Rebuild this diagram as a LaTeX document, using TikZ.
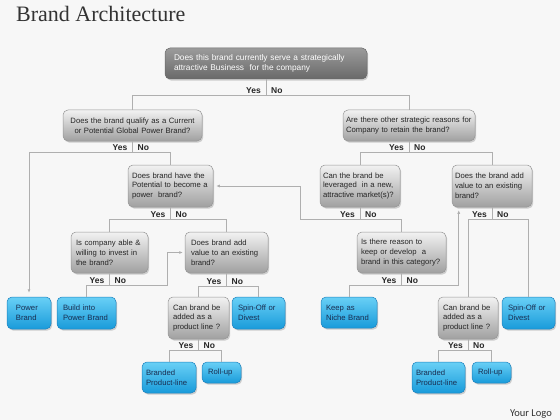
\documentclass[tikz,border=0pt]{standalone}
\usepackage{fontspec}
\setmainfont{Liberation Serif}
\newfontfamily\sansf{Liberation Sans}
\newfontfamily\logof{Carlito}
\usetikzlibrary{shadows,arrows.meta,calc}
\definecolor{bgc}{RGB}{247,247,247}
\definecolor{linec}{RGB}{175,175,175}
\definecolor{gtop}{RGB}{242,242,242}
\definecolor{gbot}{RGB}{160,160,160}
\definecolor{gdraw}{RGB}{150,150,150}
\definecolor{ttop}{RGB}{155,155,155}
\definecolor{tbot}{RGB}{105,105,105}
\definecolor{btop}{RGB}{105,208,246}
\definecolor{bbot}{RGB}{25,155,218}
\definecolor{bdraw}{RGB}{30,130,190}
\definecolor{btext}{RGB}{25,45,80}
\tikzset{
 conn/.style={draw=linec, line width=0.7pt},
 arr/.style={conn, -{Latex[length=3.5pt,width=3pt]}},
 boxbase/.style={rounded corners=5pt, line width=0.5pt, align=left, inner ysep=2pt,
   drop shadow={shadow xshift=1.2pt, shadow yshift=-1.6pt, opacity=0.35},
   font=\sansf\fontsize{7.7}{9.8}\selectfont},
 gbox/.style={boxbase, draw=gdraw, top color=gtop, bottom color=gbot, text=black!85},
 bbox/.style={boxbase, draw=bdraw, top color=btop, bottom color=bbot, text=btext},
 tbox/.style={boxbase, draw=tbot, top color=ttop, bottom color=tbot, text=white,
   font=\sansf\fontsize{8.3}{10}\selectfont},
 yn/.style={font=\sansf\bfseries\fontsize{8.5}{9}\selectfont, inner sep=0pt, text=black!85},
}
\begin{document}
\begin{tikzpicture}[x=1pt,y=-1pt]
\useasboundingbox (0,0) rectangle (560,420);
\fill[bgc] (0,0) rectangle (560,420);

\node[anchor=base west, inner sep=0pt, font=\fontsize{22}{24}\selectfont, text=black!80] (title) at (16,22) {Brand Architecture};
\node[anchor=base east, inner sep=0pt, font=\logof\fontsize{10.5}{12}\selectfont, text=black!80] (logo) at (552,416) {Your Logo};

% gray decision boxes
\node[tbox, inner xsep=9pt, text width=184pt, minimum height=31pt] (top) at (266,63.5)
  {Does this brand currently serve a strategically\\attractive Business\ \ for the company};
\node[gbox, align=center, inner xsep=4pt, text width=131pt, minimum height=31pt] (A) at (132.5,125.5)
  {Does the brand qualify as a Current\\or Potential Global Power Brand?};
\node[gbox, inner xsep=4pt, text width=77pt, minimum height=42pt] (B) at (170.5,186)
  {Does brand have the\\Potential to become a\\power\ \ brand?};
\node[gbox, inner xsep=5pt, text width=67pt, minimum height=41pt] (C) at (109.5,252.5)
  {Is company able \&\\willing to invest in\\the brand?};
\node[gbox, inner xsep=6pt, text width=71pt, minimum height=41pt] (D) at (226.5,252.5)
  {Does brand add\\value to an existing\\brand?};
\node[gbox, inner xsep=5pt, text width=51pt, minimum height=42pt] (E) at (198.5,318)
  {Can brand be\\added as a\\product line ?};
\node[gbox, inner xsep=3pt, text width=126pt, minimum height=31pt] (F) at (409,125.5)
  {Are there other strategic reasons for\\Company to retain the brand?};
\node[gbox, inner xsep=3pt, text width=74pt, minimum height=42pt] (L) at (360,186)
  {Can the brand be\\leveraged\ \ in a new,\\attractive market(s)?};
\node[gbox, inner xsep=3pt, text width=74pt, minimum height=42pt] (H) at (492,186)
  {Does the brand add\\value to an existing\\brand?};
\node[gbox, inner xsep=4pt, text width=81pt, minimum height=41pt] (G) at (401.5,252.5)
  {Is there reason to\\keep or develop\ \ a\\brand in this category?};
\node[gbox, inner xsep=5pt, text width=50pt, minimum height=42pt] (E2) at (468,318)
  {Can brand be\\added as a\\product line ?};

% blue outcome boxes
\node[bbox, inner xsep=9pt, text width=26pt, minimum height=32pt] (PB) at (29,313) {Power\\Brand};
\node[bbox, inner xsep=6pt, text width=47pt, minimum height=32pt] (BI) at (86.5,313) {Build into\\Power Brand};
\node[bbox, inner xsep=6pt, text width=41pt, minimum height=32pt] (S1) at (258.5,313) {Spin-Off or\\Divest};
\node[bbox, inner xsep=4pt, text width=46pt, minimum height=31pt] (BR1) at (169,377.5) {Branded\\Product-line};
\node[bbox, inner xsep=6pt, text width=27pt, minimum height=21pt] (R1) at (221.5,372.5) {Roll-up};
\node[bbox, inner xsep=5pt, text width=46pt, minimum height=31pt] (NB) at (349,312.5) {Keep as\\Niche Brand};
\node[bbox, inner xsep=6pt, text width=41pt, minimum height=32pt] (S2) at (528.5,313) {Spin-Off or\\Divest};
\node[bbox, inner xsep=4pt, text width=45pt, minimum height=31pt] (BR2) at (438.5,377.5) {Branded\\Product-line};
\node[bbox, inner xsep=6pt, text width=27pt, minimum height=21pt] (R2) at (491.5,372.5) {Roll-up};

% connectors
\draw[conn] (top.south) -- ++(0,16) coordinate (s0) -| (A.north);
\draw[conn] (s0) -| (F.north);

\draw[conn] (A.south) -- ++(0,11.5) coordinate (s1) -| (B.north);
\draw[arr, shorten >=4pt] (s1) -| (PB.north);

\draw[conn] (B.south) -- ++(0,12) coordinate (s2) -| (C.north);
\draw[conn] (s2) -| (D.north);

\draw[conn] (C.south) -- ++(0,12) coordinate (s3) -| (BI.north);
\draw[arr, shorten >=2pt] (s3) -| ([xshift=-17pt]D.west) -- (D.west);

\draw[conn] (D.south) -- ++(0,13) coordinate (s4) -| (E.north);
\draw[conn] (s4) -| (S1.north);

\draw[conn] (E.south) -- ++(0,11) coordinate (s5) -| (BR1.north);
\draw[conn] (s5) -| (R1.north);

\draw[conn] (F.south) -- ++(0,11.5) coordinate (s6) -| (L.north);
\draw[conn] (s6) -| (H.north);

\draw[conn] (L.south) -- ++(0,12) coordinate (s7) -| (G.north);
\draw[arr, shorten >=3pt] (s7) -| ([xshift=87pt]B.east) -- (B.east);

\draw[conn] (G.south) -- ++(0,12) coordinate (s8) -| (NB.north);
\draw[arr, shorten >=3pt] (s8) -| ([xshift=7pt]H.south west);

\draw[conn] (H.south) -- ++(0,12) coordinate (s9) -| (E2.north);
\draw[conn] (s9) -| (S2.north);

\draw[conn] (E2.south) -- ++(0,11) coordinate (s10) -| (BR2.north);
\draw[conn] (s10) -| (R2.north);

\foreach \s in {s0,s1,s2,s3,s4,s5,s6,s7,s8,s9,s10} {
  \node[yn, anchor=base east] (yes\s) at ([xshift=-5pt,yshift=2pt]\s) {Yes};
  \node[yn, anchor=base west] (no\s) at ([xshift=5pt,yshift=2pt]\s) {No};
}
\end{tikzpicture}
\end{document}
